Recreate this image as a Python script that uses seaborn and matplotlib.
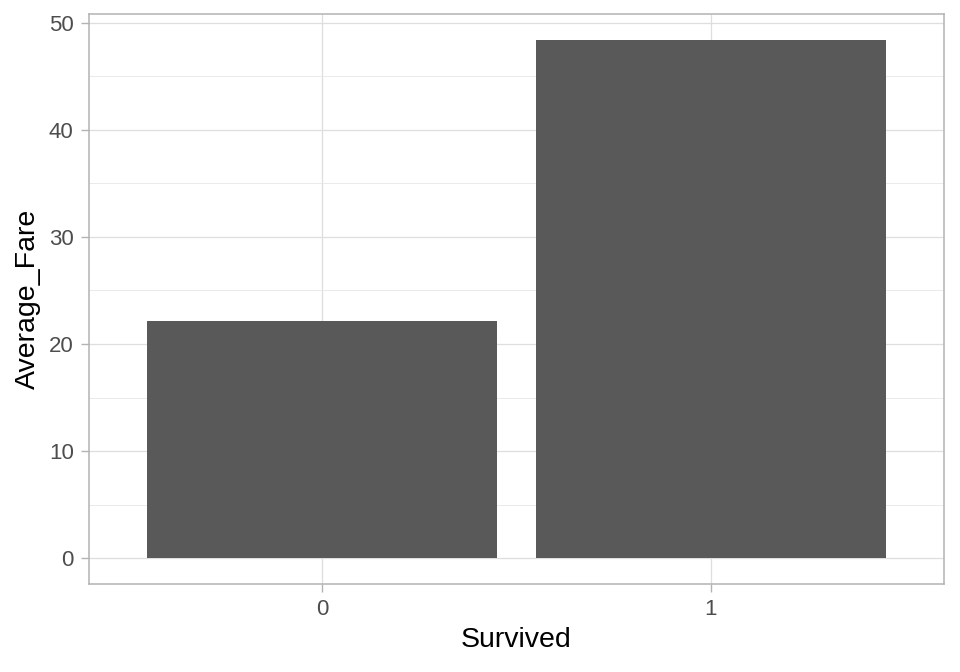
import matplotlib
matplotlib.use("Agg")
import matplotlib.pyplot as plt
import seaborn as sns
import pandas as pd

survived = ["0", "1"]
average_fare = [22.12, 48.40]

df = pd.DataFrame({"Survived": survived, "Average_Fare": average_fare})

sns.set_theme(style="white")
plt.rcParams['font.family'] = ['Liberation Sans', 'DejaVu Sans']

fig = plt.figure(figsize=(9.6, 6.72), dpi=100)
ax = fig.add_axes([0.0927, 0.131, 0.8906, 0.848])

sns.barplot(data=df, x="Survived", y="Average_Fare", color="#595959",
            saturation=1, width=0.9, ax=ax, zorder=3, linewidth=0, edgecolor="none")

ax.set_xlim(-0.6, 1.6)
ax.set_ylim(-2.42, 50.82)
ax.set_yticks([0, 10, 20, 30, 40, 50])
ax.set_yticks([5, 15, 25, 35, 45], minor=True)
ax.grid(True, which="major", color="#DEDEDE", linewidth=0.9, zorder=0)
ax.grid(True, which="minor", axis="y", color="#E6E6E6", linewidth=0.6, zorder=0)
ax.set_axisbelow(True)
for s in ax.spines.values():
    s.set_color("#B3B3B3")
    s.set_linewidth(1.1)
ax.tick_params(axis="both", which="major", length=5.5, width=1.0, color="#B3B3B3",
               labelsize=16, labelcolor="#4D4D4D", pad=5.5, left=True, bottom=True)
ax.tick_params(axis="y", which="minor", length=0)
ax.set_xlabel("Survived", fontsize=20.5, color="black", labelpad=5)
ax.set_ylabel("Average_Fare", fontsize=20.5, color="black", labelpad=6)

fig.savefig("out.png", dpi=100)
